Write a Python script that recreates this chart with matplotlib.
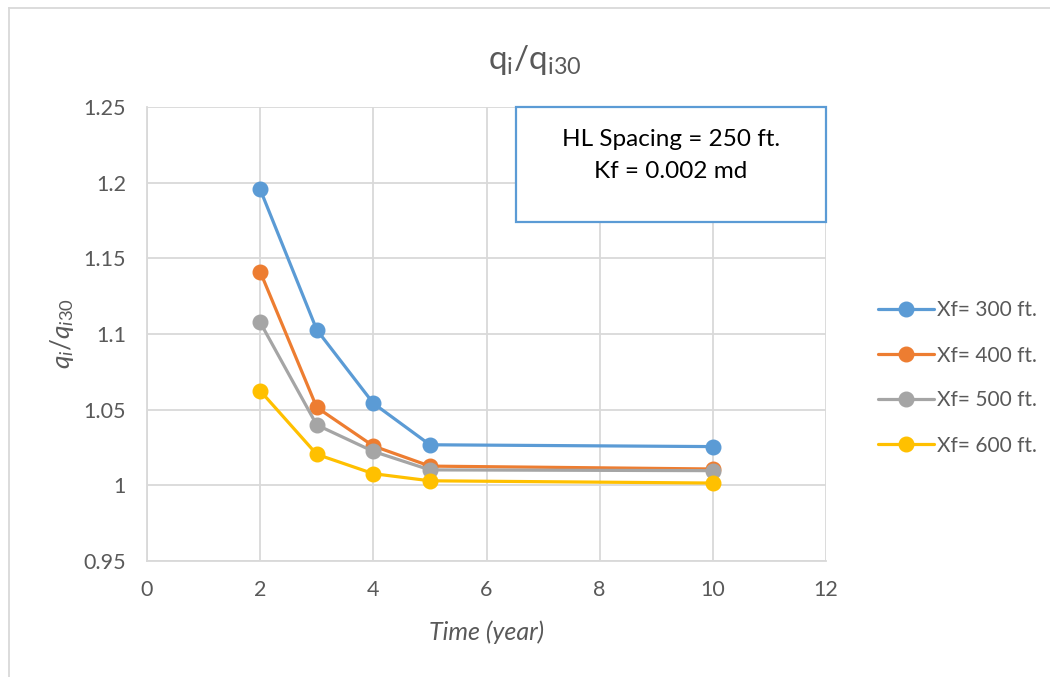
import matplotlib
matplotlib.use("Agg")
import matplotlib.pyplot as plt
from matplotlib.patches import Rectangle
from matplotlib.lines import Line2D

# Data
time_years = [2, 3, 4, 5, 10]
xf_300 = [1.1956, 1.1028, 1.0542, 1.0268, 1.0256]
xf_400 = [1.1412, 1.0515, 1.0260, 1.0127, 1.0108]
xf_500 = [1.1077, 1.0399, 1.0224, 1.0102, 1.0097]
xf_600 = [1.0625, 1.0205, 1.0077, 1.0030, 1.0015]
series_labels = ["Xf= 300 ft.", "Xf= 400 ft.", "Xf= 500 ft.", "Xf= 600 ft."]
series_colors = ["#5B9BD5", "#ED7D31", "#A5A5A5", "#FFC000"]
x_ticks = [0, 2, 4, 6, 8, 10, 12]
y_ticks = [0.95, 1.0, 1.05, 1.1, 1.15, 1.2, 1.25]
y_tick_labels = ["0.95", "1", "1.05", "1.1", "1.15", "1.2", "1.25"]
note_lines = ["HL Spacing = 250 ft.", "Kf = 0.002 md"]

plt.rcParams["font.family"] = ["Lato", "DejaVu Sans"]
plt.rcParams["mathtext.fontset"] = "custom"
plt.rcParams["mathtext.rm"] = "Lato"
plt.rcParams["mathtext.it"] = "Lato:italic"

W, H = 1050, 677
fig = plt.figure(figsize=(W / 100, H / 100), dpi=100)
ax = fig.add_axes([147 / W, 1 - 561 / H, (826 - 147) / W, (561 - 107) / H])

grid_c = "#D9D9D9"
text_c = "#595959"

for vals, lab, col in zip([xf_300, xf_400, xf_500, xf_600], series_labels, series_colors):
    ax.plot(time_years, vals, color=col, lw=2.3, marker="o", markersize=10.5,
            label=lab, zorder=3, solid_capstyle="round")

ax.set_xlim(0, 12)
ax.set_ylim(0.95, 1.25)
ax.set_xticks(x_ticks)
ax.set_yticks(y_ticks)
ax.set_yticklabels(y_tick_labels)
ax.grid(True, color=grid_c, lw=1.3)
ax.set_axisbelow(True)
for s in ["top", "right"]:
    ax.spines[s].set_visible(False)
for s in ["left", "bottom"]:
    ax.spines[s].set_color(grid_c)
    ax.spines[s].set_linewidth(1.3)
ax.tick_params(length=0, labelsize=15.5, labelcolor=text_c)
ax.tick_params(axis="x", pad=14)
ax.tick_params(axis="y", pad=15)

ax.set_xlabel("Time (year)", fontsize=18, style="italic", color=text_c)
ax.xaxis.set_label_coords(0.5, 1 - (632 - 107) / 454)
ax.xaxis.label.set_va("center")
ax.set_ylabel(r"$\mathit{q_i/q_{i30}}$", fontsize=19, color=text_c)
ax.yaxis.set_label_coords((62 - 147) / 679, 0.5)
ax.yaxis.label.set_va("center")

fig.text(535 / W, 1 - 60 / H, r"q$_\mathregular{i}$/q$_\mathregular{i30}$",
         fontsize=24, color=text_c, ha="center", va="center")

# Annotation box
x0 = (516 - 147) / (826 - 147)
y0 = (561 - 222) / (561 - 107)
box = Rectangle((x0, y0), 1 - x0, 1 - y0, transform=ax.transAxes,
                facecolor="white", edgecolor="#5B9BD5", lw=1.6, zorder=5, clip_on=False)
ax.add_patch(box)
cx = (x0 + 1) / 2
ax.text(cx, (561 - 139) / 454, note_lines[0], transform=ax.transAxes, ha="center",
        va="center", fontsize=17.5, color="black", zorder=6)
ax.text(cx, (561 - 172) / 454, note_lines[1], transform=ax.transAxes, ha="center",
        va="center", fontsize=17.5, color="black", zorder=6)

leg = fig.legend(loc="center left", bbox_to_anchor=(870 / W, 1 - 378 / H),
                 frameon=False, fontsize=15, handlelength=2.65, handletextpad=0.15,
                 labelspacing=1.2, borderaxespad=0)
for t in leg.get_texts():
    t.set_color(text_c)

# Outer chart frame
fig.add_artist(Line2D([8.5 / W, 8.5 / W], [0, 1 - 7.5 / H], color=grid_c, lw=1.3,
                      transform=fig.transFigure))
fig.add_artist(Line2D([8.5 / W, 1], [1 - 7.5 / H, 1 - 7.5 / H], color=grid_c, lw=1.3,
                      transform=fig.transFigure))

fig.savefig("out.png", dpi=100, facecolor="white")
